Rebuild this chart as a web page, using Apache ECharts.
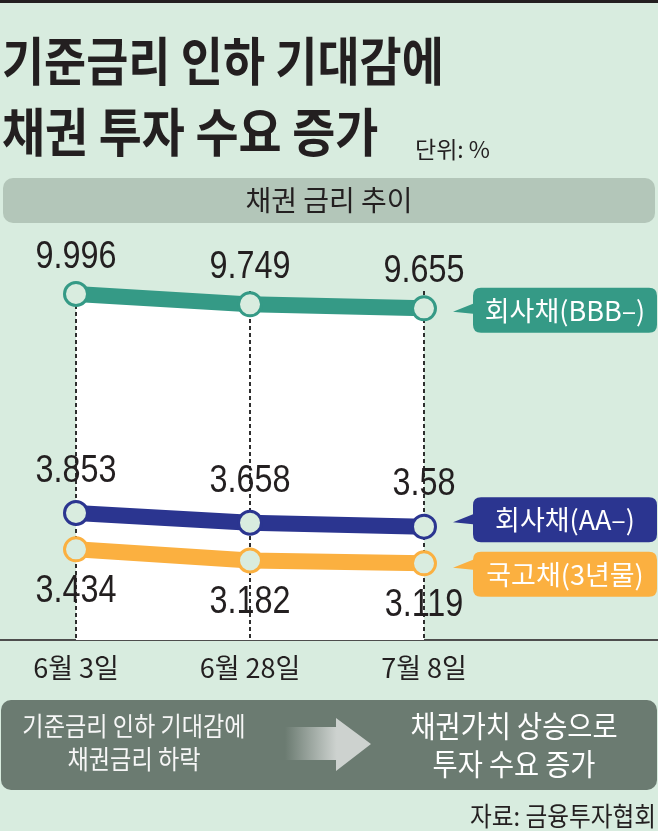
<!DOCTYPE html>
<html>
<head>
<meta charset="utf-8">
<script src="https://cdn.jsdelivr.net/npm/echarts@6/dist/echarts.min.js"></script>
<style>
  html, body { margin: 0; padding: 0; background: #d8ecdf; }
  #chart { width: 658px; height: 831px; }
</style>
</head>
<body>
<div id="chart"></div>
<script>
// ---- data ----
const categories = ['6월 3일', '6월 28일', '7월 8일'];
const bbbRates = [9.996, 9.749, 9.655];   // 회사채(BBB–)
const aaRates = [3.853, 3.658, 3.58];     // 회사채(AA–)
const govRates = [3.434, 3.182, 3.119];   // 국고채(3년물)
const seriesNames = ['회사채(BBB–)', '회사채(AA–)', '국고채(3년물)'];
const titleLines = ['기준금리 인하 기대감에', '채권 투자 수요 증가'];
const unitText = '단위: %';
const bandText = '채권 금리 추이';
const boxLeftLines = ['기준금리 인하 기대감에', '채권금리 하락'];
const boxRightLines = ['채권가치 상승으로', '투자 수요 증가'];
const sourceText = '자료: 금융투자협회';

// ---- style ----
const BG = '#d8ecdf';
const TEXT = '#231f20';
const TEAL = '#359a86';
const BLUE = '#2b3590';
const ORANGE = '#fbb040';
const FILL = '#d9ecdf';
const NUMFONT = "'Liberation Sans', 'Noto Sans CJK KR', sans-serif";
const KFONT = "'Noto Sans CJK KR', sans-serif";

function callout(t) {
  return 'path://M20,8Q20,0,28,0L196,0Q204,0,204,8L204,37Q204,45,196,45L28,45Q20,45,20,37L20,' +
    (t + 2) + 'L0,' + t + 'L20,' + (t - 8) + 'Z';
}

function lineSeries(name, data, yIdx, color, tipY, offY) {
  const last = data.length - 1;
  return {
    name: name, type: 'line', xAxisIndex: 0, yAxisIndex: yIdx, data: data, z: 3,
    symbol: 'circle', symbolSize: 23,
    itemStyle: { color: FILL, borderColor: color, borderWidth: 3 },
    lineStyle: { color: color, width: 16 },
    label: { show: false },
    markPoint: {
      symbol: callout(tipY), symbolSize: [204, 45], symbolOffset: [131, offY],
      itemStyle: { color: color },
      label: {
        show: true, position: 'inside', offset: [10, 0], formatter: '{b}',
        color: '#ffffff', fontSize: 27, fontFamily: KFONT
      },
      data: [{ name: name, coord: [last, data[last]] }]
    }
  };
}

// value labels drawn through the axes (condensed numerals)
function labelSeries(data, yIdx, dy) {
  return {
    type: 'custom', xAxisIndex: 0, yAxisIndex: yIdx, z: 5, clip: false, silent: true,
    data: categories.map((c, i) => [i, data[i]]),
    encode: { x: 0, y: 1 },
    renderItem: function (params, api) {
      const p = api.coord([api.value(0), api.value(1)]);
      return {
        type: 'text', x: p[0], y: p[1] + dy, scaleX: 0.83,
        style: {
          text: String(api.value(1)), fill: TEXT,
          font: '39px ' + NUMFONT, align: 'center', verticalAlign: 'middle'
        }
      };
    }
  };
}

const chart = echarts.init(document.getElementById('chart'), null, { renderer: 'canvas' });

const option = {
  backgroundColor: BG,
  animation: false,
  grid: [
    { left: 76, right: 234, top: 291, bottom: 191, containLabel: false, outerBoundsMode: 'none' },
    { left: 0, right: 0, top: 640, bottom: 191, containLabel: false, outerBoundsMode: 'none' }
  ],
  xAxis: [
    {
      type: 'category', gridIndex: 0, data: categories, boundaryGap: false, z: 1.5,
      axisLine: { show: false }, axisTick: { show: false },
      axisLabel: { interval: 0, margin: 14, fontSize: 27, color: TEXT, fontFamily: KFONT },
      splitLine: { show: true, interval: 0, lineStyle: { color: '#2e2e2e', width: 2, type: [4, 3] } }
    },
    {
      type: 'value', gridIndex: 1, min: 0, max: 1,
      axisLine: { show: true, onZero: false, lineStyle: { color: '#4d4d4d', width: 2 } },
      axisTick: { show: false }, axisLabel: { show: false }, splitLine: { show: false }
    }
  ],
  yAxis: [
    { type: 'value', gridIndex: 0, min: 1.7579, max: 10.0674, show: false },
    { type: 'value', gridIndex: 0, min: 1.313, max: 8.293, show: false },
    { type: 'value', gridIndex: 0, min: 1.392, max: 9.252, show: false },
    { type: 'value', gridIndex: 1, show: false }
  ],
  series: [
    {
      name: 'area', type: 'line', xAxisIndex: 0, yAxisIndex: 0, data: bbbRates, z: 1,
      symbol: 'none', silent: true, lineStyle: { width: 0 },
      areaStyle: { color: '#ffffff', opacity: 1, origin: 'start' }
    },
    lineSeries(seriesNames[0], bbbRates, 0, TEAL, 24, 2),
    lineSeries(seriesNames[1], aaRates, 1, BLUE, 25, -7),
    lineSeries(seriesNames[2], govRates, 2, ORANGE, 16, 11),
    labelSeries(bbbRates, 0, -37),
    labelSeries(aaRates, 1, -42),
    labelSeries(govRates, 2, 42)
  ],
  graphic: [
    { type: 'rect', shape: { x: 0, y: 0, width: 658, height: 3 }, style: { fill: TEXT } },
    { type: 'text', x: 2, y: 61, scaleX: 0.88,
      style: { text: titleLines[0], fill: TEXT, font: 'bold 52px ' + KFONT, verticalAlign: 'middle' } },
    { type: 'text', x: 2, y: 132, scaleX: 0.9,
      style: { text: titleLines[1], fill: TEXT, font: 'bold 52px ' + KFONT, verticalAlign: 'middle' } },
    { type: 'text', x: 415, y: 149,
      style: { text: unitText, fill: TEXT, font: '23px ' + KFONT, verticalAlign: 'middle' } },
    { type: 'rect', shape: { x: 3, y: 178, width: 652, height: 45, r: 10 }, style: { fill: '#b3c6b9' } },
    { type: 'text', x: 329, y: 200,
      style: { text: bandText, fill: TEXT, font: '28px ' + KFONT, align: 'center', verticalAlign: 'middle' } },
    { type: 'rect', shape: { x: 1, y: 700, width: 656, height: 90, r: 10 }, style: { fill: '#6b7b71' } },
    { type: 'text', x: 134, y: 726, scaleX: 0.89,
      style: { text: boxLeftLines[0], fill: '#f7f7f7', font: '26px ' + KFONT, align: 'center', verticalAlign: 'middle' } },
    { type: 'text', x: 134, y: 759, scaleX: 0.89,
      style: { text: boxLeftLines[1], fill: '#f7f7f7', font: '26px ' + KFONT, align: 'center', verticalAlign: 'middle' } },
    { type: 'text', x: 514, y: 726, scaleX: 0.91,
      style: { text: boxRightLines[0], fill: '#ffffff', font: '30px ' + KFONT, align: 'center', verticalAlign: 'middle' } },
    { type: 'text', x: 514, y: 764, scaleX: 0.91,
      style: { text: boxRightLines[1], fill: '#ffffff', font: '30px ' + KFONT, align: 'center', verticalAlign: 'middle' } },
    { type: 'polygon',
      shape: { points: [[285, 727], [336, 727], [336, 718], [371, 744], [336, 771], [336, 760], [285, 760]] },
      style: { fill: { type: 'linear', x: 0, y: 0, x2: 1, y2: 0, global: false,
        colorStops: [{ offset: 0, color: 'rgba(205,210,207,0)' }, { offset: 0.6, color: '#cdd2cf' }, { offset: 1, color: '#cdd2cf' }] } } },
    { type: 'text', x: 656, y: 816, scaleX: 0.91,
      style: { text: sourceText, fill: TEXT, font: '26px ' + KFONT, align: 'right', verticalAlign: 'middle' } }
  ]
};

chart.setOption(option);
</script>
</body>
</html>
